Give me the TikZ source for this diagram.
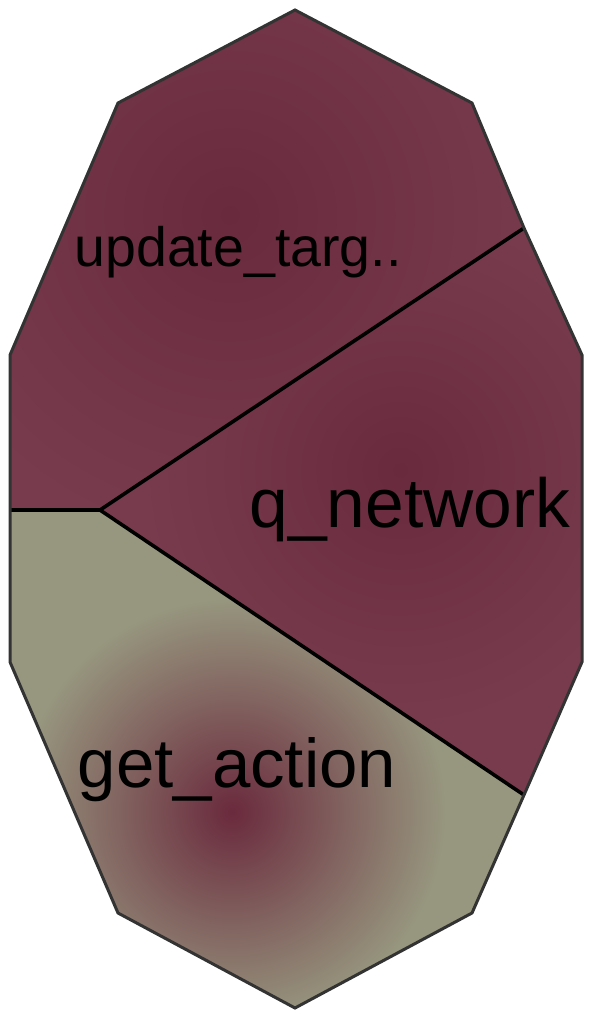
\documentclass[tikz,border=0pt]{standalone}
\usepackage{fontspec}
\setmainfont{Liberation Sans}
\definecolor{maroonA}{HTML}{6A2A3D}
\definecolor{maroonB}{HTML}{783B4E}
\definecolor{oliveA}{HTML}{97977F}
\definecolor{edgegray}{HTML}{333333}
\begin{document}
\begin{tikzpicture}[x=1pt,y=-1pt,
  outerline/.style={draw=edgegray,line width=3pt,line join=miter},
  innerline/.style={draw=black,line width=3.6pt},
  lab/.style={inner sep=0pt,anchor=center,text=black}]
\useasboundingbox (0,0) rectangle (592,1020);
\coordinate (A) at (295,10);
\coordinate (B) at (472,103);
\coordinate (C) at (524,228);
\coordinate (D) at (582,355);
\coordinate (E) at (582,662);
\coordinate (F) at (524,795);
\coordinate (G) at (472,913);
\coordinate (H) at (295,1008);
\coordinate (I) at (118,913);
\coordinate (J) at (10,662);
\coordinate (K) at (10,510);
\coordinate (L) at (10,355);
\coordinate (M) at (118,103);
\coordinate (P) at (100,510);
% upper region
\begin{scope}
\clip (M)--(A)--(B)--(C)--(P)--(K)--(L)--cycle;
\fill[maroonB] (0,0) rectangle (592,1020);
\shade[inner color=maroonA,outer color=maroonB] (230,215) circle (330);
\end{scope}
% q_network region
\begin{scope}
\clip (C)--(D)--(E)--(F)--(P)--cycle;
\fill[maroonB] (0,0) rectangle (592,1020);
\shade[inner color=maroonA,outer color=maroonB] (400,470) circle (260);
\end{scope}
% get_action region
\begin{scope}
\clip (P)--(F)--(G)--(H)--(I)--(J)--(K)--cycle;
\fill[oliveA] (0,0) rectangle (592,1020);
\shade[inner color=maroonA,outer color=oliveA] (232,812) circle (215);
\end{scope}
\draw[innerline] (K)--(P);
\draw[innerline] (P)--(C);
\draw[innerline] (P)--(F);
\draw[outerline] (A)--(B)--(C)--(D)--(E)--(F)--(G)--(H)--(I)--(J)--(K)--(L)--(M)--cycle;
\node[lab,font=\fontsize{55.5}{55.5}\selectfont] (t1) at (238,252) {update\_targ..};
\node[lab,font=\fontsize{69.5}{69.5}\selectfont] (t2) at (410,510) {q\_network};
\node[lab,font=\fontsize{69}{69}\selectfont] (t3) at (237,770) {get\_action};
\end{tikzpicture}
\end{document}
